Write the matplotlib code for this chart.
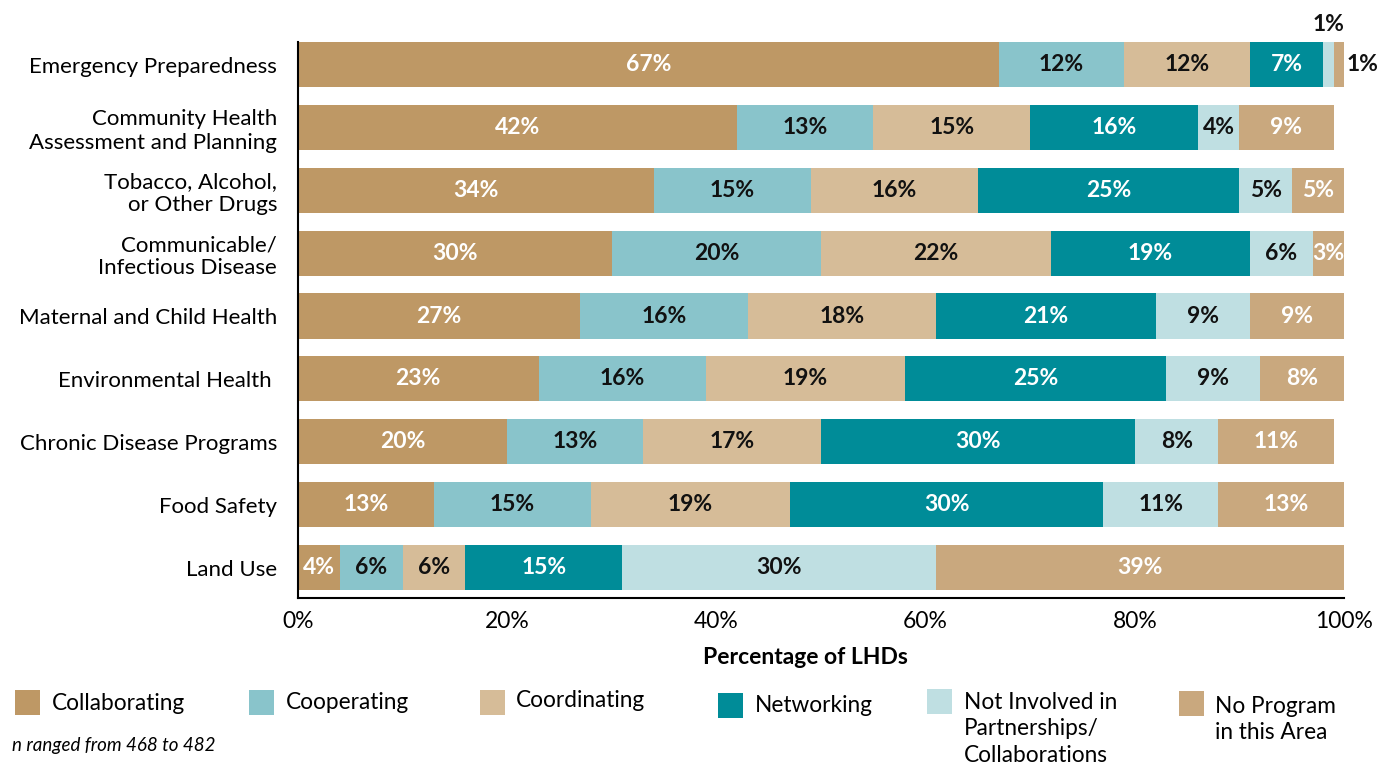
import matplotlib
matplotlib.use("Agg")
import matplotlib.pyplot as plt
from matplotlib.patches import Rectangle
import numpy as np

plt.rcParams["font.family"] = ["Lato", "DejaVu Sans"]

# ── Data ─────────────────────────────────────────────────────────────────────
areas = [
    "Emergency Preparedness",
    "Community Health\nAssessment and Planning",
    "Tobacco, Alcohol,\nor Other Drugs",
    "Communicable/\nInfectious Disease",
    "Maternal and Child Health",
    "Environmental Health ",
    "Chronic Disease Programs",
    "Food Safety",
    "Land Use",
]
collaborating = [67, 42, 34, 30, 27, 23, 20, 13, 4]
cooperating   = [12, 13, 15, 20, 16, 16, 13, 15, 6]
coordinating  = [12, 15, 16, 22, 18, 19, 17, 19, 6]
networking    = [7, 16, 25, 19, 21, 25, 30, 30, 15]
not_involved  = [1, 4, 5, 6, 9, 9, 8, 11, 30]
no_program    = [1, 9, 5, 3, 9, 8, 11, 13, 39]

series_names = ["Collaborating", "Cooperating", "Coordinating", "Networking",
                "Not Involved in\nPartnerships/\nCollaborations",
                "No Program\nin this Area"]
series = [collaborating, cooperating, coordinating, networking,
          not_involved, no_program]
colors = ["#BE9865", "#89C4CB", "#D6BC98", "#008C98", "#BFDFE2", "#C9A87E"]
text_colors = ["white", "#111111", "#111111", "white", "#111111", "white"]
xticks = [0, 20, 40, 60, 80, 100]

W, H = 1393, 766
fig = plt.figure(figsize=(W / 100, H / 100), dpi=100)
ax = fig.add_axes([298 / W, 168 / H, 1046 / W, 556 / H])

PCT_SIZE = 16.5
y = np.arange(len(areas))
left = np.zeros(len(areas))
for vals, col, tcol in zip(series, colors, text_colors):
    vals = np.array(vals, dtype=float)
    ax.barh(y, vals, left=left, height=0.716, color=col, linewidth=0)
    for i, (v, l) in enumerate(zip(vals, left)):
        if v < 2:
            # too narrow for a label inside the bar
            if col == colors[-1]:
                ax.text(l + v + 0.2, i, f"{v:.0f}%", ha="left", va="center",
                        fontsize=PCT_SIZE, fontweight="bold", color="#111111")
            else:
                ax.text(l + v / 2, i - 0.63, f"{v:.0f}%", ha="center",
                        va="center", fontsize=PCT_SIZE, fontweight="bold",
                        color="#111111", clip_on=False)
        else:
            ax.text(l + v / 2, i, f"{v:.0f}%", ha="center", va="center",
                    fontsize=PCT_SIZE, fontweight="bold", color=tcol)
    left += vals

ax.set_xlim(0, 100)
ax.set_ylim(8.485, -0.358)
ax.set_yticks(y)
ax.set_yticklabels(areas, fontsize=16, linespacing=1.2)
ax.set_xticks(xticks)
ax.set_xticklabels([f"{t}%" for t in xticks], fontsize=16.5)
ax.tick_params(axis="both", length=0)
ax.tick_params(axis="x", pad=9)
ax.tick_params(axis="y", pad=15)
for s in ["top", "right"]:
    ax.spines[s].set_visible(False)
for s in ["left", "bottom"]:
    ax.spines[s].set_linewidth(1.5)
    ax.spines[s].set_color("black")

fig.text(805 / W, 1 - 657 / H, "Percentage of LHDs", ha="center",
         va="center", fontsize=16.5, fontweight="bold")

# ── Legend (laid out by hand in pixel coords) ────────────────────────────────
boxes = [(15, 690), (249, 690), (480, 690), (718, 693), (927, 689), (1179, 691)]
labels_xy = [(52, 703), (286, 702), (516, 700), (755, 705), (964, 702), (1215, 706)]
for name, col, (bx, by), (tx, ty) in zip(series_names, colors, boxes, labels_xy):
    fig.patches.append(Rectangle((bx / W, 1 - (by + 25) / H), 25 / W, 25 / H,
                                 transform=fig.transFigure, color=col,
                                 linewidth=0))
    fig.text(tx / W, 1 - (ty - 10) / H, name, ha="left", va="top",
             fontsize=16.3, linespacing=1.31)

fig.text(12 / W, 1 - 745 / H, "n ranged from 468 to 482", ha="left",
         va="center", fontsize=13.5, style="italic")

fig.savefig("out.png", dpi=100)
